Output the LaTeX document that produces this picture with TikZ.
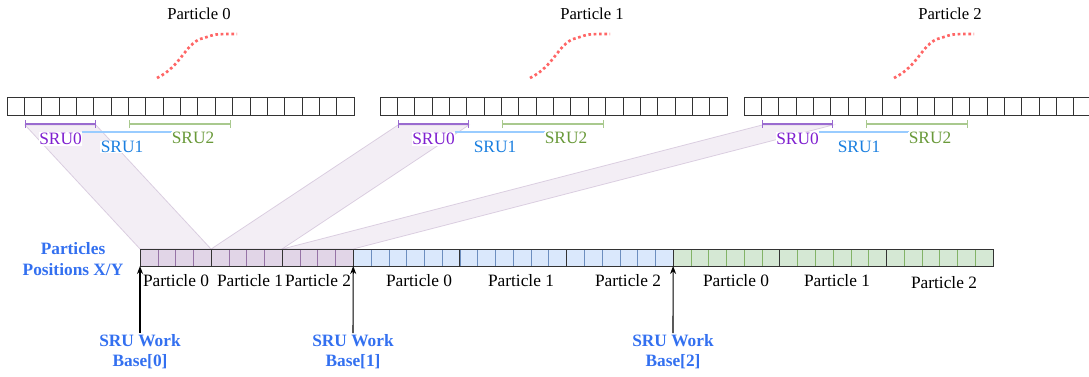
\documentclass[tikz,border=0pt]{standalone}
\usepackage{fontspec}
\setmainfont{Liberation Serif}
\usetikzlibrary{arrows.meta}

\definecolor{purpfill}{HTML}{E1D5E7}
\definecolor{purpline}{HTML}{9673A6}
\definecolor{bluefill}{HTML}{DAE8FC}
\definecolor{blueline}{HTML}{6C8EBF}
\definecolor{greenfill}{HTML}{D5E8D4}
\definecolor{greenline}{HTML}{82B366}
\definecolor{sruzerotxt}{HTML}{7F1FD0}
\definecolor{sruzeroline}{HTML}{9A6BD0}
\definecolor{sruonetxt}{HTML}{1A7FE0}
\definecolor{sruoneline}{HTML}{99CCFF}
\definecolor{srutwotxt}{HTML}{6A9A3A}
\definecolor{srutwoline}{HTML}{A9C98E}
\definecolor{labelblue}{HTML}{3370F0}
\definecolor{tracered}{HTML}{FF6666}

\begin{document}
\begin{tikzpicture}[x=0.75pt, y=-0.75pt, >={Stealth[length=6pt,width=4.5pt]},
    every node/.style={font=\fontsize{13}{16}\selectfont, inner sep=1pt},
    cell/.style={draw=black!80, line width=0.6pt},
    band/.style={fill=purpfill, fill opacity=0.4, draw=purpline, draw opacity=0.3, line width=0.6pt},
    srulbl/.style={fill=white, inner sep=0.5pt},
    bluelbl/.style={font=\fontsize{13}{15}\selectfont\bfseries, text=labelblue, align=center},
    trace/.style={draw=tracered, line width=2pt, dash pattern=on 2pt off 2pt}]
  \newcommand{\topW}{17.35}   % cell width, particle buffers
  \newcommand{\botW}{17.77}   % cell width, position array
  \useasboundingbox (0,0) rectangle (1089,376);

  % SRU0 of each particle -> its slot in the position array
  \foreach \ox/\bl in {7/140, 380/211.08, 744/282.16}
    \draw[band] (\ox+18,125) -- (\ox+89,125) -- (\bl+71.08,249) -- (\bl,249) -- cycle;

  % particle buffers on top
  \foreach \ox/\tx/\k in {7/199/0, 380/592/1, 744/950/2} {
    \node[font=\fontsize{12.5}{15}\selectfont] (title\k) at (\tx,14) {Particle \k};
    \draw[trace] (\ox+150,78) .. controls (\ox+175,66) and (\ox+179,41) .. (\ox+197,38)
                 .. controls (\ox+208,34) .. (\ox+230,34);
    \foreach \i in {0,...,19}
      \draw[cell] (\ox+\i*\topW,97) rectangle ++(\topW,18);
    \draw[sruzeroline, line width=1pt, {Bar[width=6pt]}-{Bar[width=6pt]}] (\ox+18,124) -- (\ox+89,124);
    \draw[srutwoline, line width=1pt, {Bar[width=6pt]}-{Bar[width=6pt]}] (\ox+122,124) -- (\ox+224,124);
    \draw[sruoneline, line width=1.5pt] (\ox+75,132) -- (\ox+165,132);
    \node[srulbl, text=sruzerotxt] (sruA\k) at (\ox+53.5,139) {SRU0};
    \node[srulbl, text=sruonetxt] (sruB\k) at (\ox+115,147) {SRU1};
    \node[srulbl, text=srutwotxt] (sruC\k) at (\ox+186,138) {SRU2};
  }

  % position array: 3 x 4 purple, 3 x 6 blue, 3 x 6 green
  \foreach \g in {0,1,2} {
    \foreach \i in {0,...,3}
      \draw[draw=purpline, fill=purpfill] (140+\g*71.08+\i*\botW,249) rectangle ++(\botW,17);
    \draw[cell] (140+\g*71.08,249) rectangle ++(71.08,17);
  }
  \foreach \g in {0,1,2} {
    \foreach \i in {0,...,5}
      \draw[draw=blueline, fill=bluefill] (353.24+\g*106.62+\i*\botW,249) rectangle ++(\botW,17);
    \draw[cell] (353.24+\g*106.62,249) rectangle ++(106.62,17);
  }
  \foreach \g in {0,1,2} {
    \foreach \i in {0,...,5}
      \draw[draw=greenline, fill=greenfill] (673.1+\g*106.62+\i*\botW,249) rectangle ++(\botW,17);
    \draw[cell] (673.1+\g*106.62,249) rectangle ++(106.62,17);
  }

  \node (posA0) at (176,281) {Particle 0};
  \node (posA1) at (250,281) {Particle 1};
  \node (posA2) at (318,281) {Particle 2};
  \node (posB0) at (419,281) {Particle 0};
  \node (posB1) at (521,281) {Particle 1};
  \node (posB2) at (628,281) {Particle 2};
  \node (posC0) at (736,281) {Particle 0};
  \node (posC1) at (837,281) {Particle 1};
  \node (posC2) at (944,283) {Particle 2};

  \node[bluelbl, font=\fontsize{13}{16}\selectfont\bfseries] (posxy) at (73,259) {Particles\\Positions X/Y};

  % work base pointers
  \node[bluelbl] (base0) at (140,352) {SRU Work\\Base[0]};
  \node[bluelbl] (base1) at (353,352) {SRU Work\\Base[1]};
  \node[bluelbl] (base2) at (673,352) {SRU Work\\Base[2]};
  \coordinate (slot0) at (140,266);
  \coordinate (slot1) at (353.24,266);
  \coordinate (slot2) at (673.1,266);
  \draw[->, line width=0.8pt] (base0.north) -- (slot0);
  \draw[->, line width=0.8pt] (base1.north) -- (slot1);
  \draw[->, line width=0.8pt] (base2.north) -- (slot2);
\end{tikzpicture}
\end{document}
